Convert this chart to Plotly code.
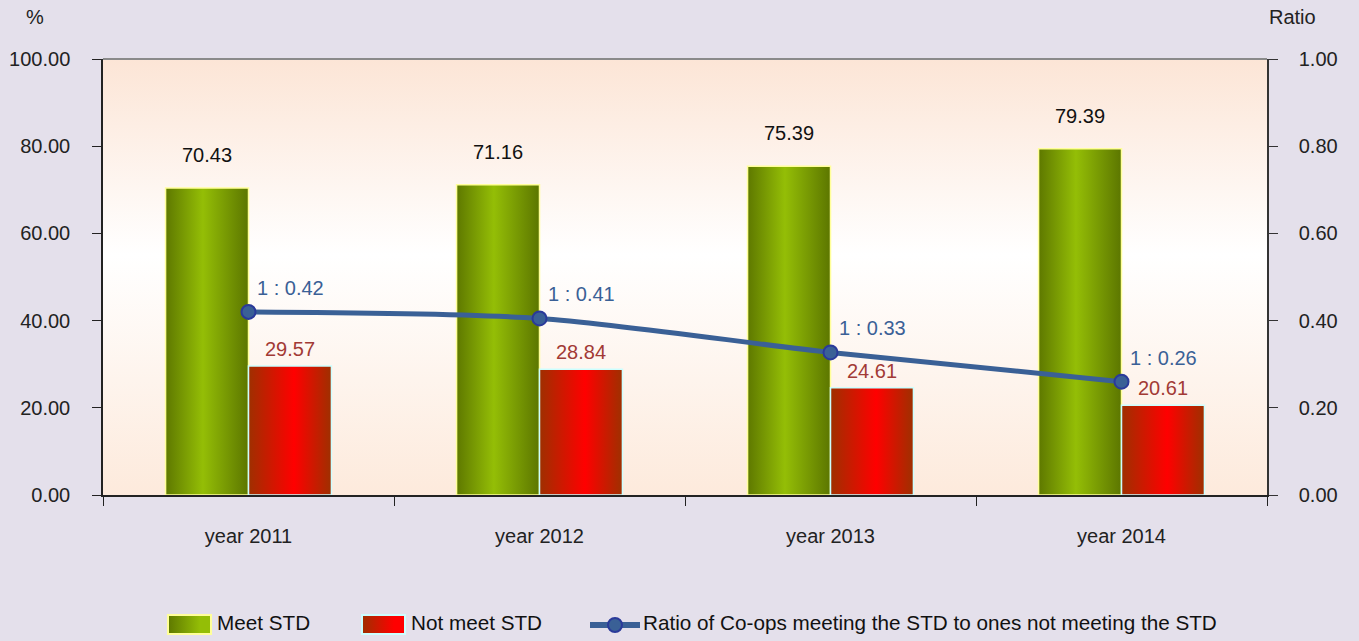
import base64
import plotly.graph_objects as go

categories = ["year 2011", "year 2012", "year 2013", "year 2014"]
meet_std = [70.43, 71.16, 75.39, 79.39]
not_meet_std = [29.57, 28.84, 24.61, 20.61]
ratio = [0.42, 0.405, 0.327, 0.26]
ratio_labels = ["1 : 0.42", "1 : 0.41", "1 : 0.33", "1 : 0.26"]
left_ticks = [0, 20, 40, 60, 80, 100]
right_ticks = [0, 0.2, 0.4, 0.6, 0.8, 1.0]
series_names = ["Meet STD", "Not meet STD",
                "Ratio of Co-ops meeting the STD to ones not meeting the STD"]

FONT = "Liberation Sans, Arial, sans-serif"
FS = 20
BAR_W = 0.285
GREEN_DARK, GREEN_LIGHT = "#5E7800", "#94BE06"
RED_DARK, RED_LIGHT = "#9E3000", "#FF0000"
LINE_COL, MARK_EDGE = "#3A6096", "#2A3A9A"
green_scale = [[0, GREEN_DARK], [0.45, GREEN_LIGHT], [1, "#5C7600"]]
red_scale = [[0, RED_DARK], [0.55, RED_LIGHT], [1, RED_DARK]]

# plot area in pixels (for placing paper-referenced decorations)
L, R, T, B, W, H = 103, 92, 59, 146, 1359, 641
PW, PH = W - L - R, H - T - B


def px(xp):
    return (xp - L) / PW


def py(yp):
    return (H - B - yp) / PH


fig = go.Figure()
centers = [i + 0.5 for i in range(len(categories))]

for i, c in enumerate(centers):
    x0, x1 = c - BAR_W, c
    v = meet_std[i]
    fig.add_trace(go.Scatter(
        x=[x0, x0, x1, x1, x0], y=[0, v, v, 0, 0], mode="lines", fill="toself",
        fillgradient=dict(type="horizontal", colorscale=green_scale),
        line=dict(color="#FFFF99", width=1.5),
        name=series_names[0], showlegend=False, hoverinfo="skip"))
for i, c in enumerate(centers):
    x0, x1 = c, c + BAR_W
    v = not_meet_std[i]
    fig.add_trace(go.Scatter(
        x=[x0, x0, x1, x1, x0], y=[0, v, v, 0, 0], mode="lines", fill="toself",
        fillgradient=dict(type="horizontal", colorscale=red_scale),
        line=dict(color="#CCFFFF", width=1.5),
        name=series_names[1], showlegend=False, hoverinfo="skip"))

fig.add_trace(go.Scatter(
    x=centers, y=ratio, yaxis="y2", mode="lines+markers",
    line=dict(color=LINE_COL, width=5, shape="spline", smoothing=0.8),
    marker=dict(size=14, color=LINE_COL, line=dict(color=MARK_EDGE, width=2)),
    name=series_names[2], showlegend=False))

ann = []
for i, c in enumerate(centers):
    ann.append(dict(x=c - BAR_W / 2, y=meet_std[i], text=f"{meet_std[i]:.2f}", showarrow=False,
                    yshift=33, font=dict(size=FS, color="#111111", family=FONT)))
    ann.append(dict(x=c + BAR_W / 2, y=not_meet_std[i], text=f"{not_meet_std[i]:.2f}", showarrow=False,
                    yshift=17, font=dict(size=FS, color="#A23A35", family=FONT)))
    ann.append(dict(x=c, y=ratio[i], yref="y2", text=ratio_labels[i], showarrow=False,
                    xanchor="left", xshift=6, yshift=24, font=dict(size=FS, color=LINE_COL, family=FONT)))
ann.append(dict(xref="paper", yref="paper", x=px(35), y=py(17), xanchor="center", yanchor="middle",
                text="%", showarrow=False, font=dict(size=FS, color="#222222", family=FONT)))
ann.append(dict(xref="paper", yref="paper", x=px(1292), y=py(17), xanchor="center", yanchor="middle",
                text="Ratio", showarrow=False, font=dict(size=FS, color="#222222", family=FONT)))

# custom legend
LEG_Y = 624
for xt, name in [(215, series_names[0]), (409, series_names[1]), (641, series_names[2])]:
    ann.append(dict(xref="paper", yref="paper", x=px(xt), y=py(LEG_Y - 2), xanchor="left", yanchor="middle",
                    text=name, showarrow=False, font=dict(size=20.7, color="#111111", family=FONT)))


def swatch(c1, c2, border):
    svg = ('<svg xmlns="http://www.w3.org/2000/svg" width="45" height="21" viewBox="0 0 45 21" '
           'preserveAspectRatio="none"><defs><linearGradient id="s" x1="0" y1="0" x2="1" y2="0">'
           f'<stop offset="0" stop-color="{c1}"/><stop offset="0.75" stop-color="{c2}"/>'
           f'<stop offset="1" stop-color="{c2}"/></linearGradient></defs>'
           f'<rect x="1" y="1" width="43" height="19" fill="url(#s)" stroke="{border}" stroke-width="2"/></svg>')
    return "data:image/svg+xml;base64," + base64.b64encode(svg.encode()).decode()


bg_svg = ('<svg xmlns="http://www.w3.org/2000/svg" width="100" height="100" viewBox="0 0 100 100" '
          'preserveAspectRatio="none"><defs><linearGradient id="g" x1="0" y1="0" x2="0" y2="1">'
          '<stop offset="0" stop-color="#FCE5D6"/><stop offset="0.45" stop-color="#FFFFFF"/>'
          '<stop offset="1" stop-color="#FDEADC"/></linearGradient></defs>'
          '<rect width="100" height="100" fill="url(#g)"/></svg>')
bg_src = "data:image/svg+xml;base64," + base64.b64encode(bg_svg.encode()).decode()

images = [dict(source=bg_src, xref="paper", yref="paper", x=0, y=1, sizex=1, sizey=1,
               xanchor="left", yanchor="top", sizing="stretch", layer="below")]
for x0, (c1, c2, bd) in [(167, (GREEN_DARK, GREEN_LIGHT, "#FFFF99")), (361, (RED_DARK, RED_LIGHT, "#CCFFFF"))]:
    images.append(dict(source=swatch(c1, c2, bd), xref="paper", yref="paper", x=px(x0), y=py(614),
                       sizex=45 / PW, sizey=21 / PH, xanchor="left", yanchor="top", sizing="stretch",
                       layer="above"))

shapes = [dict(type="line", xref="paper", yref="paper", x0=0, x1=1, y0=1, y1=1,
               line=dict(color="#8A8A8A", width=2)),
          dict(type="line", xref="paper", yref="paper", x0=px(590), x1=px(640), y0=py(625), y1=py(625),
               line=dict(color=LINE_COL, width=6)),
          dict(type="circle", xref="paper", yref="paper", x0=px(608), x1=px(622), y0=py(632), y1=py(618),
               fillcolor=LINE_COL, line=dict(color=MARK_EDGE, width=2))]

fig.update_layout(
    width=W, height=H,
    margin=dict(l=L, r=R, t=T, b=B, autoexpand=False),
    paper_bgcolor="#E4E0EB", plot_bgcolor="rgba(0,0,0,0)",
    font=dict(family=FONT, size=FS, color="#222222"),
    images=images,
    xaxis=dict(range=[0, 4], tickvals=centers, ticktext=categories, ticks="", automargin=False,
               showline=True, linecolor="#222222", linewidth=1.5, showgrid=False, zeroline=False,
               ticklabelstandoff=22,
               minor=dict(tick0=0, dtick=1, ticks="outside", ticklen=9, tickcolor="#222222", tickwidth=1.2),
               fixedrange=True),
    yaxis=dict(range=[0, 100], tickvals=left_ticks, tickformat=".2f", ticks="outside", ticklen=9,
               tickcolor="#222222", showline=True, linecolor="#222222", linewidth=1.5, automargin=False,
               showgrid=False, zeroline=False, ticklabelstandoff=18),
    yaxis2=dict(range=[0, 1], tickvals=right_ticks, tickformat=".2f", ticks="outside", ticklen=9,
                tickcolor="#333333", showline=True, linecolor="#333333", linewidth=1.5, automargin=False,
                overlaying="y", side="right", showgrid=False, zeroline=False, ticklabelstandoff=17),
    shapes=shapes,
    annotations=ann,
    showlegend=False,
)

fig.write_html("out.html", config={"displayModeBar": False},
               post_script="document.body.style.margin='0';")
